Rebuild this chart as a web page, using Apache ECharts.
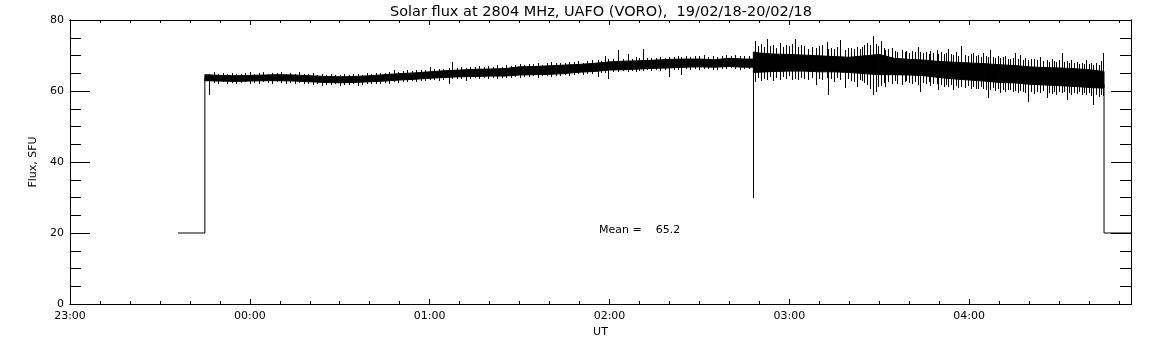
<!DOCTYPE html>
<html>
<head>
<meta charset="utf-8">
<title>Solar flux 2804 MHz</title>
<script src="https://cdn.jsdelivr.net/npm/echarts@6/dist/echarts.min.js"></script>
<style>
    html, body { margin: 0; padding: 0; background: #fff; }
    #chart { width: 1152px; height: 345px; }
</style>
</head>
<body>
<div id="chart"></div>
<script>
// minutes after 23:00 UT on the x axis
var xTickLabels = ['23:00', '00:00', '01:00', '02:00', '03:00', '04:00'];
var meanFlux = 65.2;

// receiver at reference level before and after the record
var stepTimes = [36, 45, 45];
var stepFlux = [20, 20, 63.8];
var tailTimes = [345, 345, 354];
var tailFlux = [62, 20, 20];

// dense part of the noisy record (lower / upper edge)
var bandTimes = [45, 50, 55, 60, 65, 70, 75, 80, 85, 90, 95, 100, 105, 110, 115, 120, 125, 130, 135, 140,
    145, 150, 155, 160, 165, 170, 175, 180, 185, 190, 195, 200, 205, 210, 215, 220, 225, 228,
    228, 230, 235, 240, 245, 250, 255, 260, 265, 270, 275, 280, 285, 290, 295, 300, 305, 310, 315,
    320, 325, 330, 335, 340, 345];
var bandLow = [62.9, 62.8, 62.7, 62.8, 62.9, 62.9, 62.8, 62.6, 62.4, 62.3, 62.4, 62.6, 62.8, 63.1, 63.3, 63.6, 63.8, 64.0, 64.1, 64.2,
    64.2, 64.5, 64.6, 64.7, 64.9, 65.3, 65.5, 65.9, 66.0, 66.2, 66.4, 66.5, 66.7, 66.8, 66.7, 66.9, 66.7, 66.7,
    65.2, 65.3, 65.5, 65.6, 65.6, 65.4, 65.4, 65.2, 64.9, 64.6, 64.6, 64.5, 64.3, 63.8, 63.4, 63.1, 62.8, 62.4, 62.3,
    61.9, 61.7, 61.5, 61.3, 61.0, 60.8];
var bandHigh = [64.6, 64.4, 64.3, 64.4, 64.5, 64.6, 64.5, 64.3, 64.1, 64.0, 64.1, 64.3, 64.6, 64.9, 65.1, 65.4, 65.7, 65.9, 66.1, 66.2,
    66.3, 66.8, 66.9, 67.1, 67.3, 67.5, 67.8, 68.2, 68.4, 68.5, 68.7, 68.9, 69.0, 69.0, 68.8, 69.2, 69.0, 69.0,
    71.0, 70.7, 70.4, 70.3, 70.1, 69.9, 69.7, 69.5, 69.9, 70.3, 69.2, 68.9, 68.7, 68.3, 68.1, 67.9, 67.7, 67.4, 67.2,
    66.8, 66.6, 66.5, 66.3, 66.0, 65.5];

// noise excursions: [time, lowest, highest]
var spikes = [
    [46.5, 58.9, 64.8], [48, 62.3, 65.3], [49.5, 62.0, 64.9], [51, 62.4, 65.0], [52.5, 62.1, 64.8],
    [54, 62.3, 65.2], [55.5, 62.0, 64.7], [57, 62.2, 64.9], [58.5, 62.4, 65.1], [60, 62.1, 65.4],
    [61.5, 62.3, 64.9], [63, 62.0, 65.0], [64.5, 62.4, 65.3], [66, 62.2, 64.9], [67.5, 62.1, 65.2],
    [69, 62.4, 65.0], [70.5, 62.2, 65.4], [72, 62.0, 64.9], [73.5, 62.3, 65.1], [75, 62.1, 64.8],
    [76.5, 62.2, 65.3], [78, 61.9, 64.9], [79.5, 62.0, 64.7], [81, 61.8, 65.0], [82.5, 61.9, 64.6],
    [84, 61.5, 64.8], [85.5, 61.7, 64.5], [87, 61.6, 64.8], [88.5, 61.9, 64.6], [90, 61.5, 64.5],
    [91.5, 61.8, 64.9], [93, 61.6, 64.6], [94.5, 61.9, 64.7], [96, 61.5, 64.8], [97.5, 61.8, 64.6],
    [99, 62.0, 65.0], [100.5, 61.9, 64.7], [102, 62.1, 65.1], [103.5, 61.9, 65.0], [105, 62.2, 65.2],
    [106.5, 62.0, 65.4], [108, 62.4, 65.8], [109.5, 62.3, 65.4], [111, 62.5, 65.6], [112.5, 62.4, 65.9],
    [114, 62.8, 65.7], [115.5, 62.6, 65.8], [117, 62.9, 66.0], [118.5, 62.8, 65.9], [120, 63.0, 66.9],
    [121.5, 63.1, 66.1], [123, 62.9, 66.3], [124.5, 63.2, 66.2], [126.5, 61.9, 66.4], [127.4, 63.4, 68.3],
    [129, 63.3, 66.6], [130.5, 63.5, 66.8], [132, 62.9, 66.5], [133.5, 63.5, 66.9], [135, 63.6, 66.7],
    [136.5, 63.4, 67.0], [138, 63.7, 66.8], [139.5, 63.5, 67.1], [141, 63.8, 66.9], [142.5, 63.4, 67.2],
    [144, 63.6, 66.9], [145.5, 63.8, 67.3], [147, 63.6, 67.0], [148.5, 63.9, 67.4], [150, 63.8, 67.6],
    [151.5, 64.0, 67.3], [153, 63.9, 67.7], [154.5, 64.1, 67.5], [156, 63.8, 67.8], [157.5, 64.2, 67.4],
    [159, 64.1, 67.9], [160.5, 64.0, 68.2], [162, 64.3, 67.8], [163.5, 64.1, 68.0], [165, 64.4, 67.9],
    [166.5, 64.2, 68.3], [168, 64.5, 68.1], [169.5, 64.7, 68.4], [171, 64.4, 68.0], [172.5, 64.8, 68.5],
    [174.1, 64.9, 68.6], [176.1, 63.9, 68.7], [177, 65.0, 68.4], [178.5, 65.2, 69.9], [179.6, 63.3, 68.9],
    [181.1, 65.3, 68.9], [183, 65.4, 71.5], [184.5, 65.5, 69.0], [186.3, 65.3, 70.3], [187.5, 65.6, 69.1],
    [188.9, 65.4, 69.7], [190, 65.7, 69.2], [191.3, 65.5, 71.8], [192.5, 65.8, 69.3], [194, 65.6, 69.4],
    [195.5, 65.9, 69.2], [197, 65.7, 69.6], [198.5, 65.8, 69.4], [200, 64.0, 69.7], [201.5, 66.0, 69.5],
    [203, 65.9, 69.8], [203.9, 64.6, 69.6], [205.5, 66.1, 69.9], [207, 65.9, 69.7], [208.5, 66.2, 70.0],
    [210, 66.0, 69.8], [211.5, 66.3, 70.1], [213, 66.1, 69.7], [214.5, 65.9, 69.9], [216, 66.0, 69.6],
    [217.5, 66.2, 70.0], [219, 66.1, 70.2], [220.5, 66.4, 69.9], [222, 66.2, 70.1], [223.5, 66.0, 69.8],
    [225, 66.3, 70.0], [226.5, 66.1, 69.8],
    [228, 29.8, 69.5],
    [228.6, 62.6, 74.2], [229.5, 63.8, 72.6], [230.5, 62.9, 73.3], [231.5, 63.5, 72.4], [232.5, 63.1, 74.6],
    [233.5, 63.9, 72.8], [234.5, 62.8, 73.0], [235.5, 63.6, 72.2], [236.9, 63.2, 73.4], [238, 63.9, 72.5],
    [239, 63.3, 72.9], [240, 64.1, 72.8], [241, 63.0, 73.2], [241.9, 63.4, 74.6], [243, 63.1, 72.4],
    [244, 63.8, 72.9], [245, 63.3, 72.6], [246.3, 63.2, 71.9], [247.5, 63.7, 72.5], [249, 61.7, 72.0],
    [250, 63.5, 72.6], [251, 63.0, 73.0], [252.5, 63.6, 73.9], [253, 58.9, 71.8], [254, 63.3, 72.2],
    [255, 62.6, 71.9], [256, 63.7, 72.4], [257, 63.1, 74.4], [258.6, 60.8, 71.6], [259.5, 63.4, 72.1],
    [260.5, 62.8, 72.0], [261.5, 62.5, 71.7], [262.5, 61.2, 72.3], [263.5, 63.0, 71.8], [264.2, 62.7, 72.5],
    [265, 62.2, 72.9], [266, 61.8, 73.5], [267, 60.5, 73.0], [268, 58.9, 75.5], [268.8, 59.8, 73.2],
    [269.5, 61.0, 72.8], [270.5, 61.4, 74.0], [271.5, 62.3, 72.1], [272, 61.0, 71.5], [273, 62.4, 71.8],
    [274.2, 62.0, 72.0], [275.2, 62.7, 71.2], [276, 62.0, 71.0], [277.5, 61.7, 71.6], [278.5, 62.5, 70.9],
    [279, 62.8, 71.3], [280, 62.2, 70.8], [281, 62.0, 71.2], [282, 62.6, 71.0], [283, 61.8, 72.5],
    [283.6, 59.8, 71.0], [284.5, 62.3, 70.7], [285.5, 62.0, 71.0], [286.5, 62.5, 70.5], [287, 61.5, 71.3],
    [288, 62.1, 70.6], [289.2, 61.9, 71.5], [289.7, 60.3, 70.4], [290.5, 61.7, 70.9], [291.5, 61.0, 70.3],
    [292.2, 61.8, 70.8], [293, 61.2, 71.8], [294, 61.6, 70.4], [294.7, 60.3, 70.2], [295.5, 61.4, 70.9],
    [296.3, 60.9, 70.0], [297.2, 61.2, 72.7], [298.5, 60.8, 70.2], [299.5, 61.3, 69.9], [300.5, 60.6, 70.4],
    [301.4, 61.0, 70.6], [302.2, 60.7, 69.8], [303, 60.5, 70.1], [304, 61.0, 69.7], [304.5, 60.6, 70.8],
    [305.5, 60.2, 69.9], [306.4, 57.9, 69.5], [307, 60.4, 71.5], [308, 60.9, 69.6], [308.5, 60.0, 69.3],
    [309.5, 60.5, 69.8], [310.3, 59.3, 69.2], [311.2, 60.2, 69.5], [312, 59.8, 69.8], [313, 60.4, 69.1],
    [313.5, 60.2, 68.9], [314.5, 59.7, 69.4], [315.3, 60.0, 70.6], [316.2, 59.5, 69.0], [317, 60.1, 70.1],
    [317.8, 59.8, 68.8], [318.5, 59.5, 69.2], [319.8, 57.0, 68.7], [320.7, 59.6, 69.0], [321.5, 59.2, 69.0],
    [322.5, 59.8, 68.6], [323.7, 59.4, 69.7], [324.6, 59.9, 68.4], [325.9, 57.9, 68.8], [326.7, 59.5, 68.3],
    [327.5, 59.2, 69.0], [328.3, 59.7, 68.5], [329, 59.0, 68.2], [330, 59.6, 68.7], [330.9, 59.3, 70.6],
    [331.8, 59.8, 68.1], [332.6, 57.5, 68.4], [333.4, 59.4, 68.0], [334, 59.0, 68.8], [335, 59.5, 67.9],
    [335.9, 59.2, 68.2], [336.8, 59.6, 67.7], [337.5, 58.8, 68.0], [338.3, 59.3, 67.6], [339, 58.9, 68.8],
    [340, 59.4, 67.5], [340.8, 58.7, 67.9], [341.4, 56.1, 67.4], [342.3, 58.9, 67.8], [343.2, 58.4, 67.3],
    [344, 58.8, 68.5], [344.8, 58.6, 70.6]
];

var fonte = 'DejaVu Sans';

var bandQuads = [];
for (var i = 0; i < bandTimes.length - 1; i++) {
    if (bandTimes[i + 1] === bandTimes[i]) continue;
    bandQuads.push([bandTimes[i], bandLow[i], bandHigh[i], bandTimes[i + 1], bandLow[i + 1], bandHigh[i + 1]]);
}

function pares(tempos, valores) {
    return tempos.map(function (t, k) { return [t, valores[k]]; });
}

var estiloTraco = { color: '#000', width: 1 };

function eixoX(posicao, intervalo, tamanho, comRotulo) {
    return {
        type: 'value',
        position: posicao,
        offset: 0,
        min: 0,
        max: 354,
        interval: intervalo,
        axisLine: { show: true, onZero: false, lineStyle: estiloTraco },
        axisTick: { show: true, inside: true, length: tamanho, lineStyle: estiloTraco },
        axisLabel: {
            show: comRotulo,
            color: '#000',
            fontFamily: fonte,
            fontSize: 11,
            margin: 7,
            formatter: function (v) { return xTickLabels[v / 60] || ''; }
        },
        splitLine: { show: false },
        name: comRotulo ? 'UT' : '',
        nameLocation: 'middle',
        nameGap: 18,
        nameTextStyle: { color: '#000', fontFamily: fonte, fontSize: 11 }
    };
}

function eixoY(posicao, intervalo, tamanho, comRotulo) {
    return {
        type: 'value',
        position: posicao,
        offset: 0,
        min: 0,
        max: 80,
        interval: intervalo,
        axisLine: { show: true, onZero: false, lineStyle: estiloTraco },
        axisTick: { show: true, inside: true, length: tamanho, lineStyle: estiloTraco },
        axisLabel: { show: comRotulo, color: '#000', fontFamily: fonte, fontSize: 11, margin: 6 },
        splitLine: { show: false },
        name: comRotulo ? 'Flux, SFU' : '',
        nameLocation: 'middle',
        nameGap: 25,
        nameTextStyle: { color: '#000', fontFamily: fonte, fontSize: 11 }
    };
}

var grafico = echarts.init(document.getElementById('chart'), null, { renderer: 'canvas' });

grafico.setOption({
    animation: false,
    backgroundColor: '#fff',
    title: {
        text: 'Solar flux at 2804 MHz, UAFO (VORO),  19/02/18-20/02/18',
        left: 596,
        top: 0,
        textAlign: 'center',
        textStyle: { color: '#000', fontFamily: fonte, fontSize: 14.5, fontWeight: 'normal' }
    },
    grid: { left: 70, right: 21, top: 20, bottom: 41 },
    xAxis: [
        eixoX('bottom', 60, 5, true),
        eixoX('bottom', 10, 3, false),
        eixoX('top', 60, 5, false),
        eixoX('top', 10, 3, false)
    ],
    yAxis: [
        eixoY('left', 20, 20, true),
        eixoY('left', 5, 11, false),
        eixoY('right', 20, 20, false),
        eixoY('right', 5, 11, false)
    ],
    graphic: [{
        type: 'text',
        left: 599,
        top: 225,
        style: {
            text: 'Mean =    ' + meanFlux.toFixed(1),
            fill: '#000',
            font: '11px "DejaVu Sans"'
        }
    }],
    series: [
        {
            name: 'faixa',
            type: 'custom',
            clip: true,
            xAxisIndex: 0,
            yAxisIndex: 0,
            encode: { x: [0, 3], y: [1, 2, 4, 5] },
            renderItem: function (params, api) {
                var a = api.coord([api.value(0), api.value(2)]);
                var b = api.coord([api.value(3), api.value(5)]);
                var c = api.coord([api.value(3), api.value(4)]);
                var d = api.coord([api.value(0), api.value(1)]);
                return {
                    type: 'polygon',
                    shape: { points: [a, b, c, d] },
                    style: { fill: '#000', stroke: '#000', lineWidth: 1 }
                };
            },
            data: bandQuads
        },
        {
            name: 'picos',
            type: 'custom',
            clip: true,
            xAxisIndex: 0,
            yAxisIndex: 0,
            encode: { x: 0, y: [1, 2] },
            renderItem: function (params, api) {
                var p1 = api.coord([api.value(0), api.value(1)]);
                var p2 = api.coord([api.value(0), api.value(2)]);
                var x = Math.round(p1[0]) + 0.5;
                return {
                    type: 'line',
                    shape: { x1: x, y1: Math.round(p1[1]), x2: x, y2: Math.round(p2[1]) },
                    style: { stroke: '#000', lineWidth: 1 }
                };
            },
            data: spikes
        },
        {
            name: 'inicio',
            type: 'line',
            symbol: 'none',
            xAxisIndex: 0,
            yAxisIndex: 0,
            lineStyle: estiloTraco,
            data: pares(stepTimes, stepFlux)
        },
        {
            name: 'fim',
            type: 'line',
            symbol: 'none',
            xAxisIndex: 0,
            yAxisIndex: 0,
            lineStyle: estiloTraco,
            data: pares(tailTimes, tailFlux)
        }
    ]
});
</script>
</body>
</html>
